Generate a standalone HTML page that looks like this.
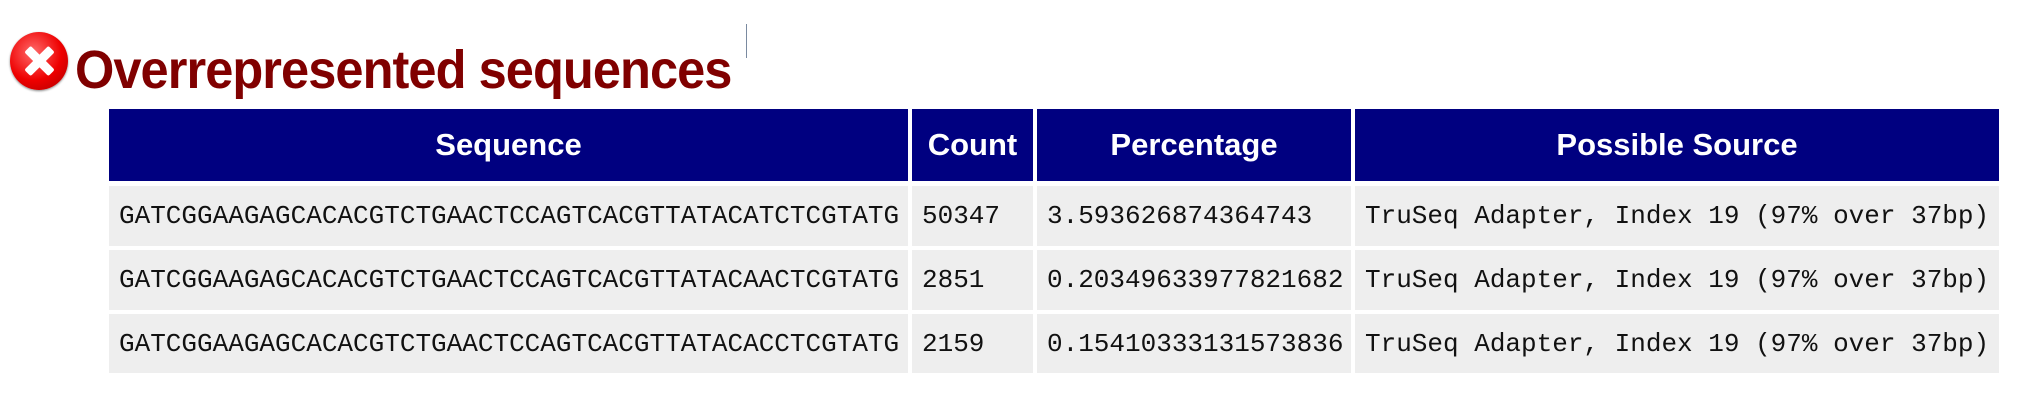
<!DOCTYPE html>
<html><head><meta charset="utf-8"><style>
body{margin:0;width:2042px;height:416px;background:#fff;position:relative;overflow:hidden;font-family:"Liberation Sans",sans-serif}
.icon{position:absolute;left:10px;top:32px;width:58px;height:58px;border-radius:50%;background:radial-gradient(circle at 40% 35%,#ff6b6b,#e00 55%,#a00);box-shadow:0 1px 2px #888}
.icon::before,.icon::after{content:"";position:absolute;left:25px;top:12px;width:9px;height:34px;background:#fff;border-radius:2px;transform:rotate(45deg)}
.icon::after{transform:rotate(-45deg)}
h1{position:absolute;left:75px;top:39px;margin:0;font-size:54px;font-weight:bold;color:#800000;letter-spacing:-1px;transform:scaleX(0.936);transform-origin:left}
.vl{position:absolute;left:746px;top:24px;width:1px;height:34px;background:#7a8aa0}
.c{position:absolute;box-sizing:border-box;display:flex;align-items:center}
.h{background:#000080;color:#fff;font-weight:bold;font-size:31px;justify-content:center}
.d{background:#eee;color:#111;font-family:"Liberation Mono",monospace;font-size:26px;padding-left:10px;white-space:nowrap}
</style></head><body>
<div class="icon"></div>
<h1>Overrepresented sequences</h1>
<div class="vl"></div>
<div id="t"></div>
<script>
const cols=[[109,908],[912,1033],[1037,1351],[1355,1999]];
const headers=["Sequence","Count","Percentage","Possible Source"];
const rows=[
["GATCGGAAGAGCACACGTCTGAACTCCAGTCACGTTATACATCTCGTATG","50347","3.593626874364743","TruSeq Adapter, Index 19 (97% over 37bp)"],
["GATCGGAAGAGCACACGTCTGAACTCCAGTCACGTTATACAACTCGTATG","2851","0.20349633977821682","TruSeq Adapter, Index 19 (97% over 37bp)"],
["GATCGGAAGAGCACACGTCTGAACTCCAGTCACGTTATACACCTCGTATG","2159","0.15410333131573836","TruSeq Adapter, Index 19 (97% over 37bp)"]];
const rowY=[[109,181],[186,246],[250,310],[314,373]];
const t=document.getElementById('t');
function cell(cls,x,y,text){const d=document.createElement('div');d.className='c '+cls;
d.style.left=x[0]+'px';d.style.width=(x[1]-x[0])+'px';d.style.top=y[0]+'px';d.style.height=(y[1]-y[0])+'px';d.textContent=text;t.appendChild(d);return d;}
headers.forEach((h,i)=>{const d=cell('h',cols[i],rowY[0],h);

});
rows.forEach((r,ri)=>r.forEach((v,i)=>{const d=cell('d',cols[i],rowY[ri+1],v);

}));
</script>
</body></html>
